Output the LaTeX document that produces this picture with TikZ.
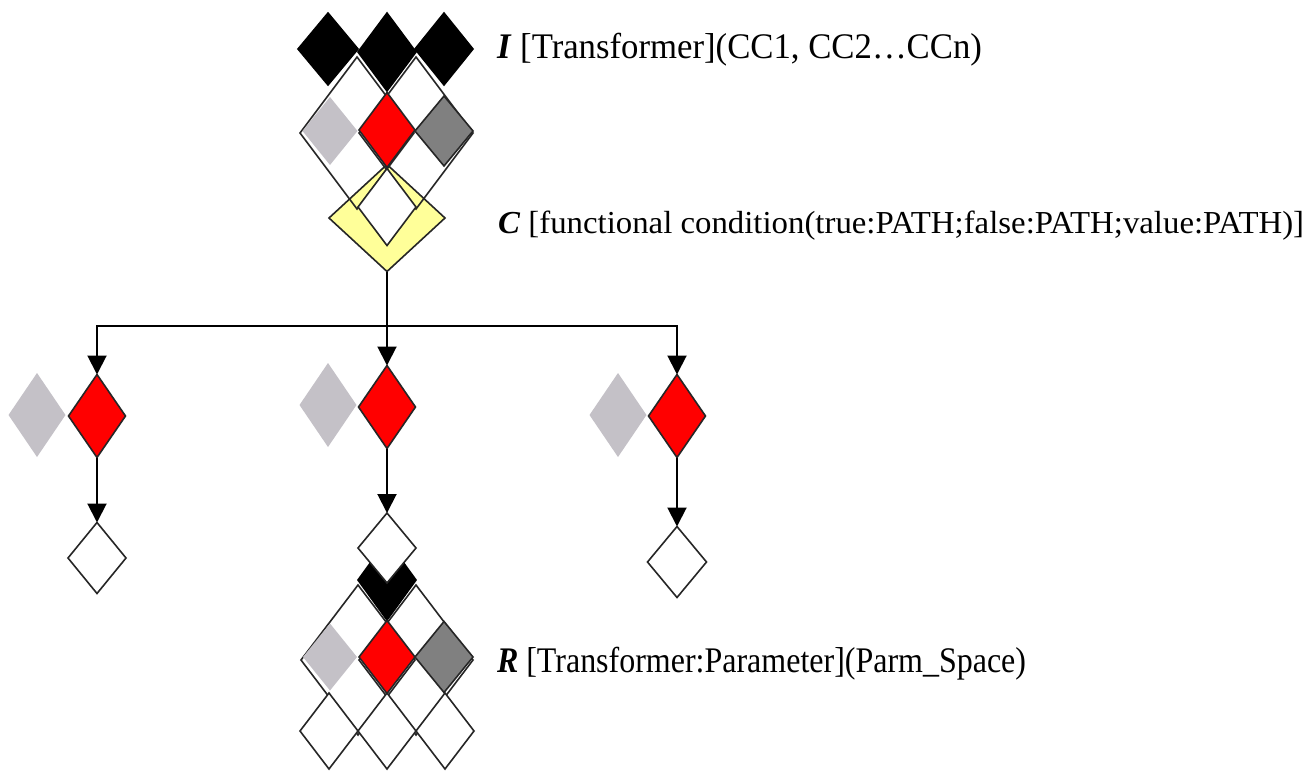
\documentclass[tikz,border=0pt]{standalone}
\usepackage{fontspec}
\usepackage{graphicx}
\setmainfont{Liberation Serif}
\usetikzlibrary{shapes.geometric,arrows.meta}
\definecolor{lgray}{HTML}{C4C1C7}
\definecolor{dgray}{HTML}{808080}
\definecolor{pyellow}{HTML}{FFFF99}
\tikzset{
  dia/.style={shape=diamond,inner sep=0pt,outer sep=0pt,line width=1.6pt,draw=black!85},
  dsize/.style 2 args={minimum width=#1pt,minimum height=#2pt},
  conn/.style={line width=2pt,draw=black},
  arr/.style={conn,-{Triangle[width=19pt,length=19pt]}},
  lbl/.style={anchor=base west,inner sep=0pt,outer sep=0pt}
}
\begin{document}
\begin{tikzpicture}[x=1pt,y=-1pt]
\useasboundingbox[fill=white] (0,0) rectangle (1307,771);
% ---------- top cluster (I, C) ----------
\node[dia,fill=pyellow,dsize={116}{107}] (yel) at (387,218) {};
\node[dia,dsize={114}{152}] (bigIL) at (357,133) {};
\node[dia,dsize={114}{152}] (bigIR) at (416,133) {};
\node[dia,fill=white,dsize={58}{77}] (inI) at (387,207) {};
\node[dia,fill=black,draw=black,dsize={60}{72}] (bkIL) at (328,49) {};
\node[dia,fill=black,draw=black,dsize={58}{78}] (bkIM) at (387,52) {};
\node[dia,fill=black,draw=black,dsize={58}{72}] (bkIR) at (444,49) {};
\node[dia,draw=none,fill=lgray,dsize={55}{68}] (lgI) at (330,131) {};
\node[dia,fill=red,dsize={56}{75}] (rdI) at (387,130) {};
\node[dia,fill=dgray,dsize={58}{70}] (dgI) at (444,131) {};
% ---------- middle row ----------
\coordinate (hub) at (387,326);
\node[dia,draw=none,fill=lgray,dsize={57}{84}] (lgL) at (37,415) {};
\node[dia,fill=red,dsize={57}{83}] (rdL) at (97,416) {};
\node[dia,draw=none,fill=lgray,dsize={57}{84}] (lgM) at (328,405) {};
\node[dia,fill=red,dsize={57}{83}] (rdM) at (387,407) {};
\node[dia,draw=none,fill=lgray,dsize={57}{84}] (lgR) at (618,415) {};
\node[dia,fill=red,dsize={57}{83}] (rdR) at (677,416) {};
\node[dia,fill=white,dsize={58}{71}] (whL) at (97,558) {};
\node[dia,fill=white,dsize={59}{71}] (whR) at (677,562) {};
% ---------- bottom cluster (R) ----------
\node[dia,dsize={114}{150}] (bigRL) at (358,660) {};
\node[dia,dsize={114}{150}] (bigRR) at (416,660) {};
\node[dia,fill=white,dsize={58}{76}] (wb1) at (329,731) {};
\node[dia,fill=white,dsize={58}{76}] (wb2) at (387,731) {};
\node[dia,fill=white,dsize={58}{76}] (wb3) at (445,731) {};
\node[dia,fill=black,draw=black,dsize={58}{80}] (bkR) at (387,580) {};
\node[dia,fill=white,dsize={58}{70}] (whM) at (387,548) {};
\node[dia,draw=none,fill=lgray,dsize={54}{67}] (lgRb) at (330,657) {};
\node[dia,fill=red,dsize={56}{73}] (rdRb) at (387,657) {};
\node[dia,fill=dgray,dsize={58}{71}] (dgRb) at (444,657) {};
% ---------- connectors ----------
\draw[conn] (yel.south) -- (hub);
\draw[arr] (hub) -| (rdL.north);
\draw[arr] (hub) -| (rdR.north);
\draw[arr] (hub) -- (rdM.north);
\draw[arr] (rdL.south) -- (whL.north);
\draw[arr] (rdM.south) -- (whM.north);
\draw[arr] (rdR.south) -- (whR.north);
% ---------- labels ----------
\node[lbl] (lblI) at (497,58) {\resizebox{485pt}{\height}{\fontsize{36}{40}\selectfont\textbf{\textit{I}} [Transformer](CC1, CC2\ldots CCn)}};
\node[lbl] (lblC) at (498,233) {\resizebox{806pt}{\height}{\fontsize{32}{36}\selectfont\textbf{\textit{C}} [functional condition(true:PATH;false:PATH;value:PATH)]}};
\node[lbl] (lblR) at (497,672) {\resizebox{529pt}{\height}{\fontsize{36}{40}\selectfont\textbf{\textit{R}} [Transformer:Parameter](Parm\_Space)}};
\end{tikzpicture}
\end{document}
